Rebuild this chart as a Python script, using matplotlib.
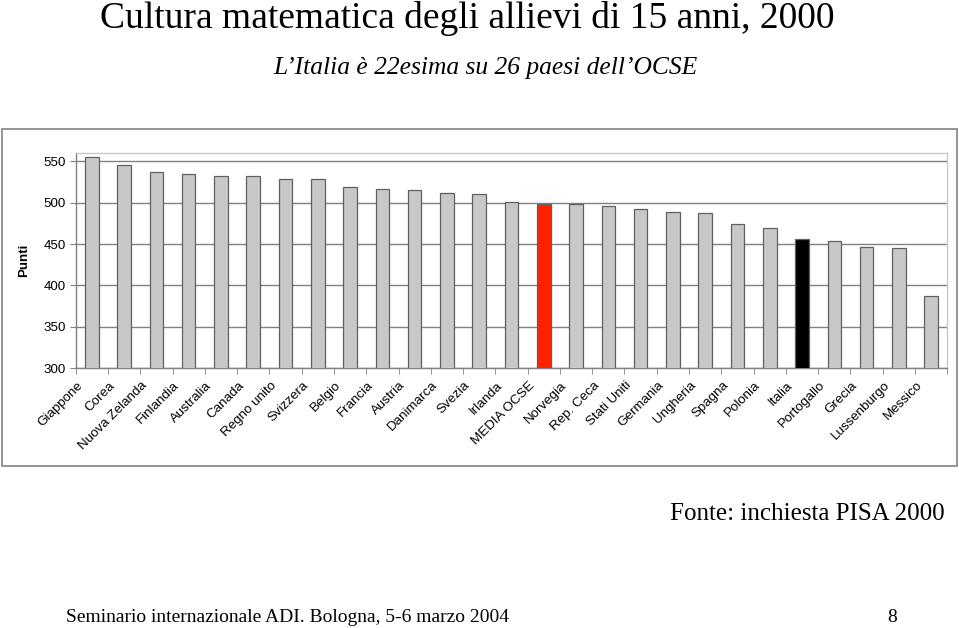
import numpy as np
import matplotlib
matplotlib.use("Agg")
import matplotlib.pyplot as plt
import matplotlib.transforms as mtransforms
from matplotlib.patches import Rectangle

categories = ["Giappone", "Corea", "Nuova Zelanda", "Finlandia", "Australia", "Canada",
              "Regno unito", "Svizzera", "Belgio", "Francia", "Austria", "Danimarca",
              "Svezia", "Irlanda", "MEDIA OCSE", "Norvegia", "Rep. Ceca", "Stati Uniti",
              "Germania", "Ungheria", "Spagna", "Polonia", "Italia", "Portogallo",
              "Grecia", "Lussenburgo", "Messico"]
values = [555, 546, 537, 535, 532, 532, 528, 528, 519, 517, 515, 512, 510, 501,
          498, 498, 496, 492, 489, 487, 474, 469, 456, 454, 447, 445, 387]
highlight = {"MEDIA OCSE": "#FF2200", "Italia": "#000000"}
yticks = [300, 350, 400, 450, 500, 550]

W, H = 959, 628
fig = plt.figure(figsize=(W / 100, H / 100), dpi=100)

# outer chart frame
fig.patches.append(Rectangle((2 / W, 1 - 466 / H), 955 / W, 337 / H,
                             transform=fig.transFigure, fill=False,
                             edgecolor="#8C8C8C", lw=1.3))

left, right, top, bottom = 75.7, 947.3, 153.0, 368.3
ax = fig.add_axes([left / W, 1 - bottom / H, (right - left) / W, (bottom - top) / H])

x = np.arange(len(categories))
colors = [highlight.get(c, "#C8C8C8") for c in categories]
ax.bar(x, values, width=0.42, color=colors, edgecolor="#606060", linewidth=0.9, zorder=3)

ax.set_ylim(300, 560)
ax.set_xlim(-0.5, len(categories) - 0.5)
ax.set_yticks(yticks)
ax.yaxis.grid(True, color="#808080", linewidth=1.0, zorder=0)
ax.set_axisbelow(True)

for s in ["left", "bottom"]:
    ax.spines[s].set_color("#808080")
    ax.spines[s].set_linewidth(1.0)
for s in ["top", "right"]:
    ax.spines[s].set_color("#C8C8C8")
    ax.spines[s].set_linewidth(1.0)

ax.set_xticks(x)
ax.set_xticklabels(categories, rotation=45, ha="right", va="center",
                   rotation_mode="anchor", family="Liberation Sans", fontsize=9.6)
ax.tick_params(axis="x", which="major", length=0, pad=11)
shift = mtransforms.ScaledTranslation(-8 / 72, 0, fig.dpi_scale_trans)
for lab in ax.get_xticklabels():
    lab.set_transform(lab.get_transform() + shift)
ax.set_xticks(np.arange(-0.5, len(categories)), minor=True)
ax.tick_params(axis="x", which="minor", length=4, direction="out", color="#808080")
ax.tick_params(axis="y", length=4, direction="out", color="#808080", pad=3)
for lab in ax.get_yticklabels():
    lab.set_family("Liberation Sans")
    lab.set_fontsize(9.6)

ax.set_ylabel("Punti", family="Liberation Sans", fontsize=9.6, fontweight="bold", labelpad=10)

fig.text(467 / W, 1 - 18 / H, "Cultura matematica degli allievi di 15 anni, 2000",
         family="Liberation Serif", fontsize=27, ha="center", va="center")
fig.text(485 / W, 1 - 68 / H, "L\u2019Italia è 22esima su 26 paesi dell\u2019OCSE",
         family="Liberation Serif", style="italic", fontsize=18.4, ha="center", va="center")
fig.text(945 / W, 1 - 514 / H, "Fonte: inchiesta PISA 2000",
         family="Liberation Serif", fontsize=18, ha="right", va="center")
fig.text(66 / W, 1 - 617 / H, "Seminario internazionale ADI. Bologna, 5-6 marzo 2004",
         family="Liberation Serif", fontsize=14, ha="left", va="center")
fig.text(892 / W, 1 - 617 / H, "8",
         family="Liberation Serif", fontsize=14, ha="center", va="center")

fig.savefig("out.png", dpi=100)
